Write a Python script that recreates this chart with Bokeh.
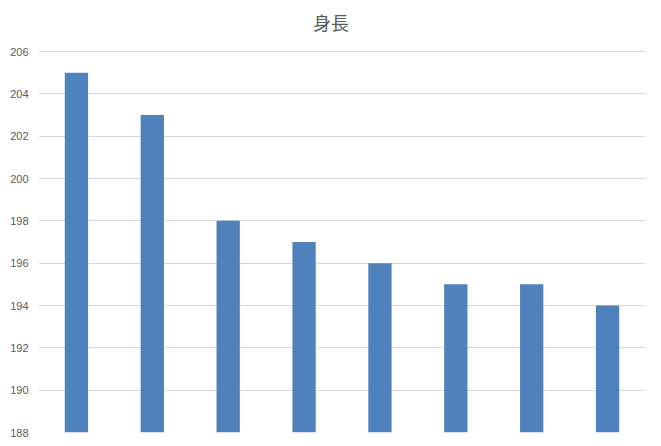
from bokeh.plotting import figure
from bokeh.models import Range1d, FixedTicker, Label
from bokeh.embed import file_html
from bokeh.resources import INLINE

title_text = "身長"
positions = [1, 2, 3, 4, 5, 6, 7, 8]
heights = [205, 203, 198, 197, 196, 195, 195, 194]
y_ticks = [188, 190, 192, 194, 196, 198, 200, 202, 204, 206]
baseline = 188

p = figure(width=653, height=438, output_backend="svg", toolbar_location=None,
           x_range=Range1d(0.5, 8.5), y_range=Range1d(188, 208.41),
           x_axis_location=None,
           min_border_left=38, min_border_right=8, min_border_bottom=6, min_border_top=0)

p.vbar(x=positions, top=heights, bottom=baseline, width=0.307, color="#4F81BD", line_color=None)

title = Label(x=4.355, y=207.39, text=title_text, text_align="center", text_baseline="middle",
              text_font="Noto Sans CJK JP", text_font_size="18px", text_color="#595959")
p.add_layout(title)

p.yaxis.ticker = FixedTicker(ticks=y_ticks)
p.yaxis.axis_line_color = None
p.yaxis.major_tick_line_color = None
p.yaxis.minor_tick_line_color = None
p.yaxis.major_tick_out = 0
p.yaxis.major_tick_in = 0
p.yaxis.major_label_standoff = 10
p.yaxis.major_label_text_font = "Liberation Sans"
p.yaxis.major_label_text_font_size = "11px"
p.yaxis.major_label_text_color = "#595959"

p.xgrid.grid_line_color = None
p.ygrid.grid_line_color = "#D9D9D9"
p.ygrid.grid_line_width = 1
p.outline_line_color = None

open("out.html", "w").write(file_html(p, INLINE))
